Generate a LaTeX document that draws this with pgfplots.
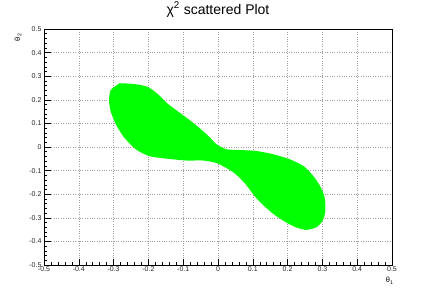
\documentclass[border=0pt]{standalone}
\usepackage{pgfplots}
\pgfplotsset{compat=1.18}
\usepackage{fontspec}
\setmainfont{Liberation Sans}
\definecolor{rootgreen}{RGB}{0,255,0}
\begin{document}
\begin{tikzpicture}[x=1pt,y=1pt]
\useasboundingbox (0,0) rectangle (436,295);
\begin{axis}[
  at={(44pt,30pt)}, anchor=south west,
  scale only axis, width=348pt, height=236pt,
  xmin=-0.5, xmax=0.5, ymin=-0.5, ymax=0.5,
  xtick={-0.5,-0.4,...,0.5}, ytick={-0.5,-0.4,...,0.5},
  xticklabels={-0.5,-0.4,-0.3,-0.2,-0.1,0,0.1,0.2,0.3,0.4,0.5},
  yticklabels={-0.5,-0.4,-0.3,-0.2,-0.1,0,0.1,0.2,0.3,0.4,0.5},
  minor tick num=4,
  xtick pos=bottom, ytick pos=left,
  tick align=inside,
  major tick length=6.5pt, minor tick length=3.2pt,
  tick style={black, line width=0.5pt},
  grid=major,
  major grid style={dotted, gray!75, line width=0.6pt},
  axis line style={black, line width=0.8pt},
  ticklabel style={font=\fontsize{7}{8}\selectfont, text=black!85},
  /pgf/number format/assume math mode=true,
  xticklabel style={yshift=1.5pt},
  yticklabel style={xshift=1pt},
  title={χ\textsuperscript{2} scattered Plot},
  title style={font=\fontsize{14}{15}\selectfont, at={(axis description cs:0.5,1)}, anchor=base, yshift=9pt},
  xlabel={θ\textsubscript{1}},
  xlabel style={font=\fontsize{7.5}{9}\selectfont, at={(axis description cs:1,0)}, anchor=north east, yshift=-9pt, xshift=5pt},
  ylabel={θ\textsubscript{2}},
  ylabel style={font=\fontsize{7.5}{9}\selectfont, at={(axis description cs:0,1)}, anchor=east, xshift=-1pt, yshift=26pt},
]
\addplot[fill=rootgreen, draw=rootgreen, line width=2pt, line join=round, smooth, tension=0.4] coordinates {
(-0.282,0.266) (-0.244,0.263) (-0.205,0.252) (-0.177,0.224) (-0.148,0.182)
(-0.110,0.140) (-0.072,0.098) (-0.033,0.049) (-0.005,0.007) (0.024,-0.014)
(0.062,-0.017) (0.110,-0.021) (0.158,-0.035) (0.205,-0.056) (0.244,-0.084)
(0.272,-0.126) (0.291,-0.168) (0.303,-0.210) (0.306,-0.266) (0.299,-0.308)
(0.282,-0.336) (0.253,-0.347) (0.224,-0.336) (0.196,-0.315) (0.167,-0.287)
(0.138,-0.252) (0.110,-0.210) (0.081,-0.154) (0.053,-0.112) (0.024,-0.084)
(-0.005,-0.063) (-0.043,-0.053) (-0.091,-0.053) (-0.148,-0.045) (-0.196,-0.035)
(-0.234,-0.007) (-0.267,0.042) (-0.291,0.098) (-0.306,0.154) (-0.310,0.196)
(-0.306,0.238) (-0.282,0.266)
} -- cycle;
\end{axis}
\end{tikzpicture}
\end{document}
